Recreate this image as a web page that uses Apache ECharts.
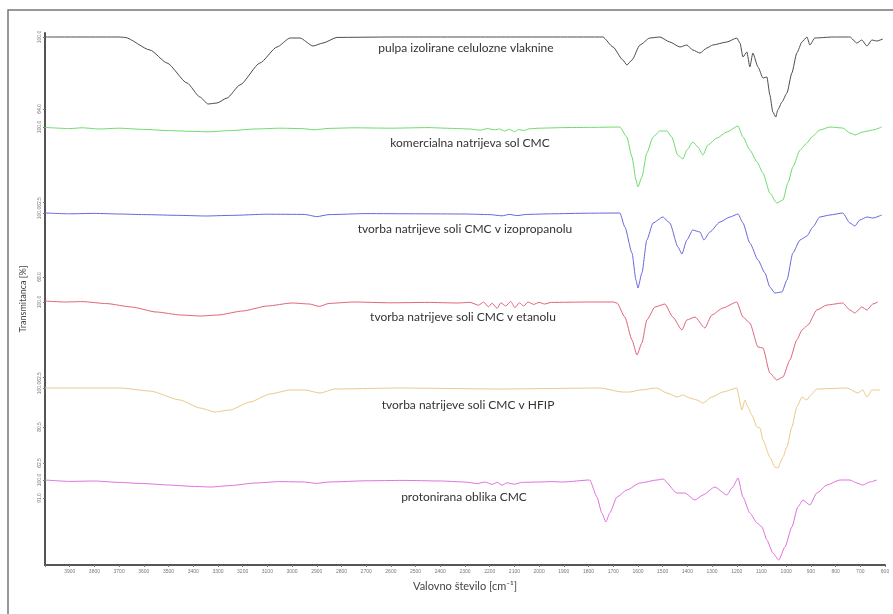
<!DOCTYPE html>
<html>
<head>
<meta charset="utf-8">
<script src="https://cdn.jsdelivr.net/npm/echarts@6/dist/echarts.min.js"></script>
<style>html,body{margin:0;padding:0;background:#fff}#c{width:893px;height:614px}</style>
</head>
<body>
<div id="c"></div>
<script>
// ---- data: [wavenumber cm-1, transmittance %] ----
const seriesNames = [
  'pulpa izolirane celulozne vlaknine',
  'komercialna natrijeva sol CMC',
  'tvorba natrijeve soli CMC v izopropanolu',
  'tvorba natrijeve soli CMC v etanolu',
  'tvorba natrijeve soli CMC v HFIP',
  'protonirana oblika CMC'
];
const pulpa = [[4000,100],[3700,100],[3676,99.8],[3575,93.5],[3506,87],[3425,77],[3373,70],[3340,66.5],[3304,67],[3263,69.5],[3211,76],[3130,87],[3061,95],[3008,99.5],[2968,99.5],[2915,95.5],[2875,97],[2818,99.8],[2600,100],[2200,100],[1900,100],[1742,100],
 [1701,95],[1661,88.5],[1645,86],[1624,88.5],[1592,96],[1552,99.5],[1511,100],[1471,97.5],[1430,95],[1402,96],[1378,93.5],[1349,92],[1321,94.5],[1297,96],[1240,97.5],[1200,99.5],[1187,97],[1175,90],[1159,92.5],[1147,85],[1135,92],[1114,85],[1094,79.5],[1078,80],[1066,71],[1054,62.5],[1042,60],[1034,63.5],[1017,67.5],[997,72],[977,82],[957,92],[936,97.5],[916,100],[904,96],[884,99.5],[811,100],[742,100],[714,97],[694,98.5],[673,95.5],[653,98.5],[633,98],[609,99]];
const komercialna = [[4000,99.8],[3900,99.2],[3850,99.6],[3780,99],[3700,99.4],[3600,98.8],[3500,98.2],[3400,97.8],[3340,97.6],[3250,98.2],[3150,99],[3050,99.4],[2960,99.2],[2910,98.6],[2850,99.3],[2750,99.6],[2600,99.4],[2450,99.7],[2350,99.3],[2280,99],[2240,98.4],[2210,99.2],[2180,98.6],[2160,99],[2140,98],[2120,98.9],[2100,97.6],[2085,98.7],[2060,98.3],[2040,99.1],[2000,99.4],[1900,99.7],[1800,99.8],[1673,100],
 [1645,95],[1624,85],[1608,73.5],[1600,70],[1584,75],[1564,87],[1539,95],[1511,98],[1483,98],[1463,95],[1439,86],[1418,84],[1402,88.5],[1378,92.5],[1357,90],[1337,86],[1317,91],[1280,94.5],[1240,97.5],[1195,100.5],[1175,95],[1147,88.5],[1118,82.5],[1094,77],[1066,67],[1038,62],[1013,63.5],[993,72],[973,80],[944,88.5],[916,92],[896,95],[864,98.5],[823,100],[771,99.5],[742,97],[722,96],[690,97.5],[649,98.5],[613,100]];
const izopropanol = [[4000,100],[3900,99.6],[3800,99.8],[3700,99.5],[3600,99.2],[3450,98.8],[3350,98.5],[3250,98.8],[3100,99.4],[2950,99.3],[2900,98.2],[2850,99.2],[2700,99.7],[2500,99.6],[2300,99.5],[2200,99.2],[2150,98.6],[2120,99.3],[2090,98.7],[2050,99.3],[1950,99.6],[1800,99.9],[1673,100],
 [1653,93],[1624,80],[1608,66.5],[1600,62.5],[1584,70],[1564,86.5],[1539,95],[1499,98],[1471,95],[1438,83],[1422,79.5],[1402,86.5],[1378,91.5],[1349,90.5],[1333,86.5],[1309,90.5],[1268,95.5],[1228,98],[1195,99.5],[1175,95],[1147,85],[1114,76.5],[1086,70],[1066,63],[1046,60],[1017,60.5],[997,66.5],[973,80],[944,86.5],[916,88.5],[892,93],[864,98],[823,99],[771,100],[742,95],[722,93.5],[702,96.5],[673,98],[649,97.5],[613,99]];
const etanol = [[4000,100.5],[3920,100],[3850,100.2],[3750,99.2],[3650,97.5],[3550,95],[3450,93.5],[3370,93],[3300,93.5],[3200,95.5],[3100,98],[3000,99.5],[2930,99],[2890,97.8],[2850,99.3],[2750,100],[2600,99.6],[2450,99.8],[2330,99.5],[2280,99.8],[2245,98.4],[2225,100],[2205,97.6],[2190,99.4],[2170,96.8],[2155,99.6],[2135,98],[2115,100.3],[2098,97.2],[2080,99.6],[2062,98],[2045,100],[2022,98.8],[2000,99.8],[1978,99],[1950,99.8],[1800,100],[1700,100],
 [1685,99.5],[1653,92.5],[1624,81],[1604,73.5],[1584,79.5],[1564,91],[1531,97.5],[1491,99],[1459,92.5],[1422,86],[1402,91],[1369,92.5],[1329,87],[1301,93.5],[1256,97],[1200,100],[1175,92.5],[1147,89.5],[1114,77.5],[1094,77],[1066,64.5],[1038,61],[1013,62.5],[985,71],[957,81],[936,86],[912,88.5],[876,96],[835,98.5],[771,99.5],[742,96],[722,94.5],[694,97.5],[673,96],[649,99],[629,100]];
const hfip = [[4000,100],[3696,100],[3575,98.5],[3454,94],[3373,90],[3312,88],[3251,89],[3170,93],[3089,97],[3008,99],[2948,99],[2887,97.5],[2826,99.5],[2563,100],[2158,99.5],[1754,100],
 [1661,98],[1633,98],[1592,99],[1523,100],[1483,97.5],[1442,95.5],[1418,96.5],[1390,95],[1361,94],[1337,92.5],[1301,95.5],[1256,98],[1200,100],[1179,89],[1167,94],[1155,90.5],[1139,86.5],[1118,80.5],[1106,80],[1094,74],[1066,65.5],[1046,60.5],[1034,60],[1013,65.5],[997,70.5],[977,80.5],[957,90.5],[936,95.5],[916,94],[904,96],[876,99.5],[754,100],[710,97.5],[690,99],[673,95.5],[653,99],[621,99]];
const protonirana = [[4000,100],[3900,99.3],[3800,99.5],[3700,98.8],[3600,98.2],[3500,97.5],[3400,96.8],[3330,96.5],[3250,97.2],[3150,98.5],[3050,99.2],[2950,99],[2900,98.3],[2850,99],[2700,99.6],[2550,99.8],[2400,99.5],[2300,99],[2250,98.2],[2220,99],[2190,97.8],[2170,98.8],[2150,97.4],[2130,98.6],[2100,97.9],[2070,98.8],[2000,99],[1950,99.2],[1904,99],[1795,100],
 [1766,91.5],[1746,83.5],[1730,79],[1714,83.5],[1685,91.5],[1645,95],[1592,98.5],[1523,100],[1499,100.5],[1442,93.5],[1410,93.5],[1369,90],[1337,92.5],[1289,96.5],[1240,92.5],[1216,96.5],[1195,101],[1175,91.5],[1147,83.5],[1118,78.5],[1098,76.5],[1078,70],[1054,63.5],[1030,60],[1005,66.5],[977,76.5],[953,86.5],[932,90],[904,87.5],[876,93.5],[835,97.5],[783,100],[742,100],[714,98.5],[690,97.5],[661,99],[633,100]];
const seriesData = [pulpa, komercialna, izopropanol, etanol, hfip, protonirana];
const seriesColors = ['#4d4d4d', '#6cdc6c', '#6666dd', '#e06478', '#ecc888', '#e070e0'];
// per-spectrum y tick values (%T)
const yTickValues = [[100, 64], [100, 62.5], [100, 68], [100, 62.5], [100, 80.5, 62.5], [100, 91]];
// x ticks
const xMin = 600, xMax = 4000, xStep = 100;

// ---- layout ----
const L = 45, R = 8;
const bandTops = [33, 123, 209, 298, 384, 476];
const labelPos = [[466, 48], [470, 143], [465, 229], [463, 317], [468, 405], [464, 497]];

const grids = [{ left: L, right: R, top: 33, bottom: 49 }];
const xAxes = [{
  type: 'value', gridIndex: 0, min: xMin, max: xMax, interval: xStep, inverse: true,
  name: 'Valovno število [cm\u207B\u00B9]', nameLocation: 'middle', nameGap: 16,
  nameTextStyle: { fontSize: 11, color: '#444', fontFamily: 'Lato' },
  axisLine: { lineStyle: { color: '#555', width: 2 } },
  axisTick: { length: 2, lineStyle: { color: '#777' } },
  axisLabel: { fontSize: 5, color: '#777', margin: 4, formatter: v => v === 4000 ? '' : String(v) },
  splitLine: { show: false }
}];
const yAxes = [{
  type: 'value', gridIndex: 0, min: 0, max: 1,
  name: 'Transmitanca [%]', nameLocation: 'middle', nameGap: 17, nameRotate: 90,
  nameTextStyle: { fontSize: 9, color: '#444', fontFamily: 'Lato' },
  axisLine: { show: true, lineStyle: { color: '#555', width: 2 } },
  axisTick: { show: false }, axisLabel: { show: false }, splitLine: { show: false }
}];
const series = [];
seriesData.forEach((d, i) => {
  grids.push({ left: L, right: R, top: bandTops[i], height: 88 });
  xAxes.push({ type: 'value', gridIndex: i + 1, min: xMin, max: xMax, inverse: true, show: false });
  yAxes.push({
    type: 'value', gridIndex: i + 1, min: 58, max: 102,
    axisLine: { show: false }, splitLine: { show: false },
    axisTick: { show: true, length: 2, customValues: yTickValues[i], lineStyle: { color: '#777' } },
    axisLabel: { show: true, customValues: yTickValues[i], fontSize: 5, color: '#777', rotate: 90, margin: 3,
      formatter: v => v.toFixed(1) }
  });
  series.push({
    name: seriesNames[i], type: 'line', xAxisIndex: i + 1, yAxisIndex: i + 1,
    data: d, showSymbol: false, smooth: 0.2, smoothMonotone: 'x',
    lineStyle: { color: seriesColors[i], width: 1 }, itemStyle: { color: seriesColors[i] }
  });
});

const graphic = [{
  type: 'rect', shape: { x: 8, y: 10, width: 900, height: 620 },
  style: { fill: 'none', stroke: '#777', lineWidth: 1.5 }, silent: true
}];
seriesNames.forEach((n, i) => {
  graphic.push({
    type: 'text', x: labelPos[i][0], y: labelPos[i][1],
    style: { text: n, fontSize: 12, fontFamily: 'Lato', fill: '#333', align: 'center', verticalAlign: 'middle' }
  });
});

const chart = echarts.init(document.getElementById('c'));
chart.setOption({
  animation: false,
  backgroundColor: '#fff',
  grid: grids, xAxis: xAxes, yAxis: yAxes, series: series, graphic: graphic
});
</script>
</body>
</html>
